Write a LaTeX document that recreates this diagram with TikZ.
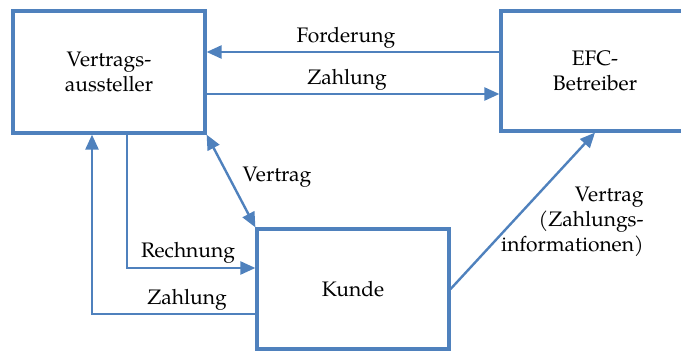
\documentclass[tikz,border=0pt]{standalone}
\usepackage{fontspec}
\setmainfont{TeX Gyre Pagella}
\usetikzlibrary{arrows.meta}
\definecolor{flowblue}{RGB}{79,129,189}
\begin{document}
\begin{tikzpicture}[x=0.5pt,y=-0.5pt,
  every node/.style={font=\fontsize{10.5}{12.6}\selectfont},
  party/.style={draw=flowblue,line width=1.6pt,inner sep=0pt,align=center},
  link/.style={draw=flowblue,line width=1.2pt,-{Triangle[length=7.5pt,width=6.5pt]}},
  twoway/.style={link,{Triangle[length=7.5pt,width=6.5pt]}-{Triangle[length=7.5pt,width=6.5pt]}},
  tag/.style={anchor=base,inner sep=0pt}]
  \useasboundingbox (0,0) rectangle (681,352);
  \clip (0,0) rectangle (681,352);

  % the three parties
  \node[party,minimum width=96pt,minimum height=61pt] (aus) at (109,72) {Vertrags-\\aussteller};
  \node[party,minimum width=94pt,minimum height=60pt] (efc) at (595,71) {EFC-\\Betreiber};
  \node[party,minimum width=96pt,minimum height=60pt] (kun) at (353,289) {Kunde};

  % helper positions for the orthogonal connectors
  \coordinate (yFord) at (0,52);
  \coordinate (yZahl) at (0,94);
  \coordinate (xRech) at (127,0);
  \coordinate (yRech) at (0,268);
  \coordinate (xZahl) at (92,0);
  \coordinate (yZahlK) at (0,314);
  \coordinate (yVert) at (0,289);

  % flows between issuer and operator
  \draw[link] (efc.west |- yFord) -- (aus.east |- yFord);
  \draw[link] (aus.east |- yZahl) -- (efc.west |- yZahl);
  \node[tag] (lFord) at (346,43) {Forderung};
  \node[tag] (lZahl) at (347,85) {Zahlung};

  % contract between issuer and customer
  \draw[twoway] (aus.south east) -- (kun.north west);
  \node[tag] (lVert) at (277,182) {Vertrag};

  % invoice and payment between issuer and customer
  \draw[link] (aus.south -| xRech) |- (kun.west |- yRech);
  \node[tag] (lRech) at (188,258) {Rechnung};
  \draw[link] (kun.west |- yZahlK) -| (aus.south -| xZahl);
  \node[tag] (lZahlK) at (187,305) {Zahlung};

  % contract data from customer to operator
  \draw[link] (kun.east |- yVert) -- (efc.south);
  \node[anchor=base east,inner sep=0pt,align=right] (lVertZ) at (644,252)
    {Vertrag\\(Zahlungs-\\informationen)};
\end{tikzpicture}
\end{document}
